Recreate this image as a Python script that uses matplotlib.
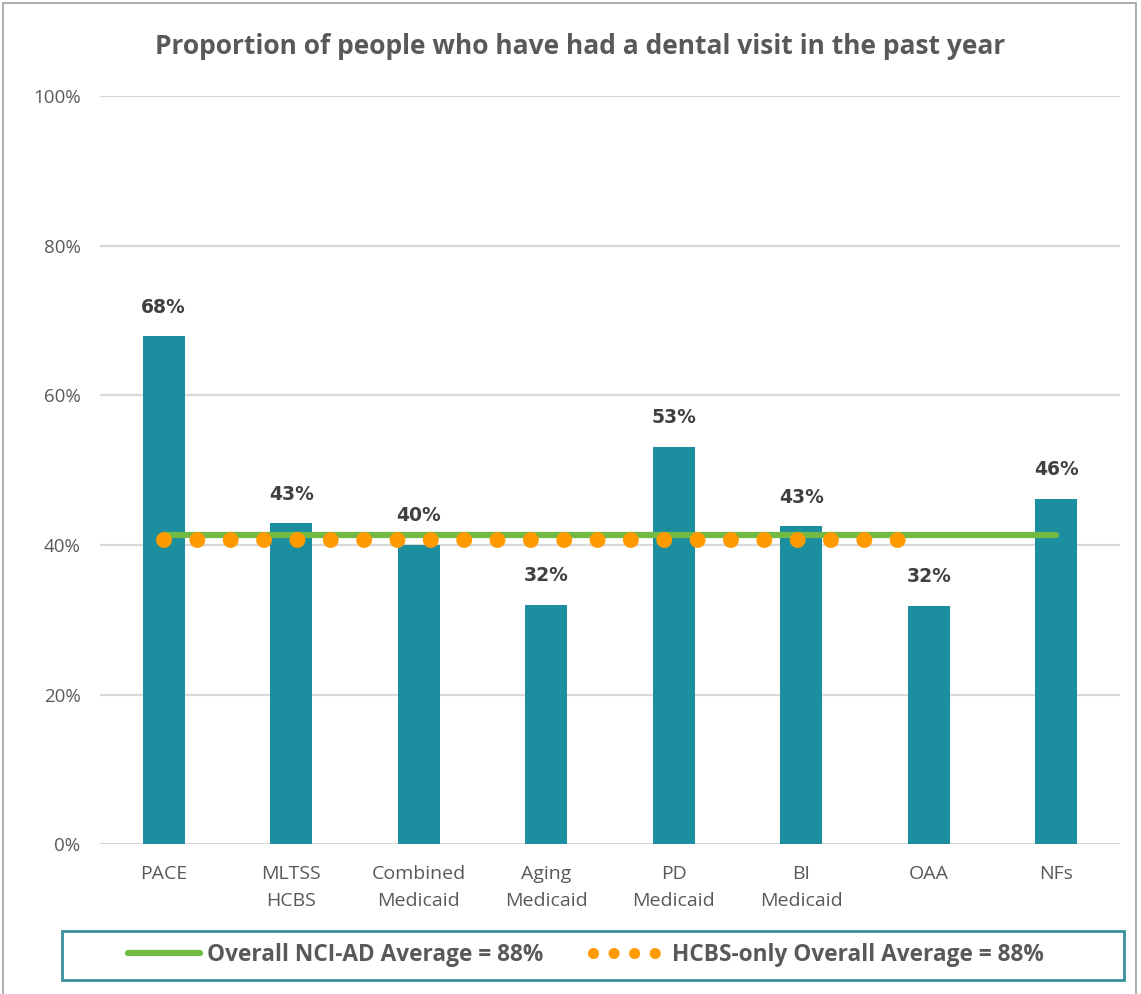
import matplotlib
matplotlib.use("Agg")
import matplotlib.pyplot as plt
from matplotlib.lines import Line2D
from matplotlib.patches import Rectangle
import numpy as np

categories = ["PACE", "MLTSS\nHCBS", "Combined\nMedicaid", "Aging\nMedicaid",
              "PD\nMedicaid", "BI\nMedicaid", "OAA", "NFs"]
values = [0.679, 0.429, 0.400, 0.320, 0.531, 0.425, 0.319, 0.462]
labels = ["68%", "43%", "40%", "32%", "53%", "43%", "32%", "46%"]
overall_avg = 0.414          # green line across all groups
hcbs_avg = 0.406             # orange dotted line across HCBS groups (PACE..OAA)
hcbs_last = 6                # index of last HCBS group
yticks = [0, 0.2, 0.4, 0.6, 0.8, 1.0]
ytick_labels = ["0%", "20%", "40%", "60%", "80%", "100%"]
title = "Proportion of people who have had a dental visit in the past year"
legend_labels = ["Overall NCI-AD Average = 88%", "HCBS-only Overall Average = 88%"]

BAR = "#1B8EA0"
GREEN = "#72BA43"
ORANGE = "#FF9A00"
GRID = "#D9D9D9"
TXT = "#595959"
LBL = "#404040"

plt.rcParams['font.family'] = ['Open Sans', 'DejaVu Sans']

fig = plt.figure(figsize=(11.41, 9.94), dpi=100)
ax = fig.add_axes([100/1141, 1-844.3/994, 1020/1141, (844.3-96)/994])

x = np.arange(len(categories))
ax.bar(x, values, width=0.33, color=BAR, zorder=2)

for xi, v, l in zip(x, values, labels):
    ax.annotate(l, (xi, v), xytext=(0, 21), textcoords="offset points",
                ha="center", va="center", fontsize=13.5, fontweight="bold",
                color=LBL, family=['DejaVu Sans'], zorder=5)

ax.plot([x[0], x[-1]], [overall_avg, overall_avg], color=GREEN, lw=4.5,
        solid_capstyle="round", zorder=3)
lw_dot = 11.5
ax.plot([x[0], x[hcbs_last]], [hcbs_avg, hcbs_avg], color=ORANGE, lw=lw_dot,
        linestyle=(0, (0.001, 24.0 / lw_dot)), dash_capstyle="round", zorder=4)

ax.set_xlim(-0.5, len(categories) - 0.5)
ax.set_ylim(0, 1.0)
ax.set_yticks(yticks)
ax.set_yticklabels(ytick_labels, fontsize=13.5, color=TXT)
ax.set_xticks(x)
ax.set_xticklabels(categories, fontsize=14, color=TXT, linespacing=1.6)
ax.tick_params(axis="both", length=0)
ax.tick_params(axis="y", pad=14)
ax.tick_params(axis="x", pad=15)
for s in ax.spines.values():
    s.set_visible(False)
ax.grid(axis="y", color=GRID, lw=1.6, zorder=0)
ax.set_axisbelow(True)

fig.text(580/1141, 1-46/994, title, ha="center", va="center", fontsize=19,
         fontweight="bold", color=TXT)

# outer chart border
fig.add_artist(Rectangle((3/1141, -0.01), 1133/1141, 1-3/994+0.01, transform=fig.transFigure,
                         fill=False, edgecolor="#A0A0A0", lw=1.2))

# legend box
fig.add_artist(Rectangle((62/1141, 1-980/994), (1124-62)/1141, (980-931)/994,
                         transform=fig.transFigure, fill=False, edgecolor="#3A8F9C", lw=2))
handles = [Line2D([0], [0], color=GREEN, lw=4.5, solid_capstyle="round"),
           Line2D([0], [0], color=ORANGE, lw=8, linestyle=(0, (0.001, 1.85)),
                  dash_capstyle="round")]
fig.legend(handles, legend_labels, loc="center", bbox_to_anchor=(586/1141, 1-955/994),
           ncol=2, frameon=False, handlelength=3.2, handletextpad=0.3,
           columnspacing=2.2, prop={'weight': 'bold', 'size': 16.3},
           labelcolor=TXT)

fig.savefig("out.png", dpi=100, facecolor="white")
